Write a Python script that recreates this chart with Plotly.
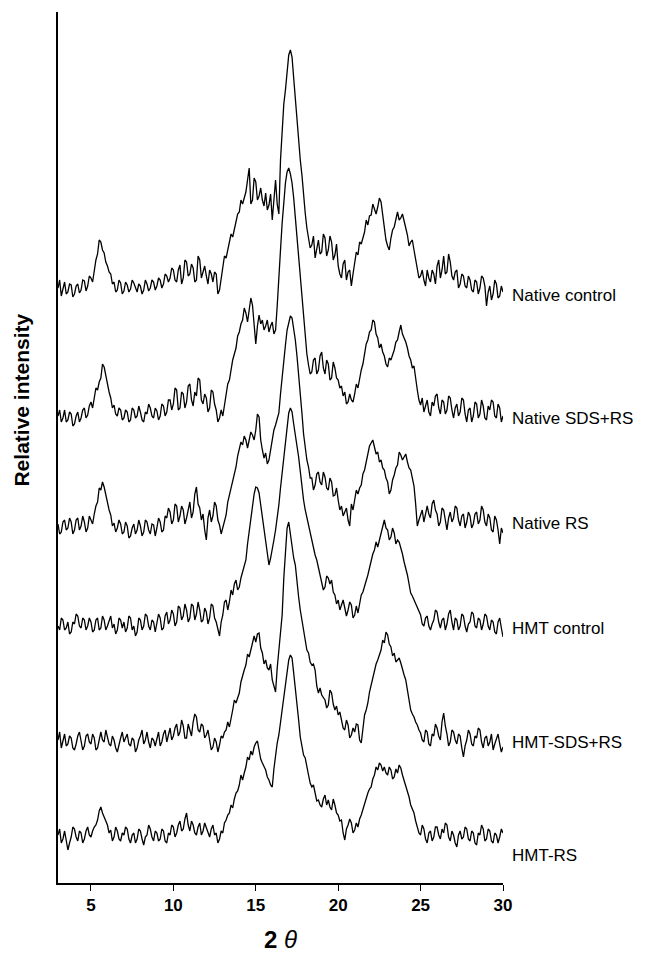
import numpy as np
import plotly.graph_objects as go

# 2-theta sampling grid (degrees)
two_theta_start = 3.0
two_theta_step = 0.1
n_points = 271
two_theta = np.round(two_theta_start + two_theta_step * np.arange(n_points), 1)

sample_names = ["Native control", "Native SDS+RS", "Native RS",
                "HMT control", "HMT-SDS+RS", "HMT-RS"]

# vertical stacking offsets (relative intensity units)
stack_offsets = [583, 453, 343, 243, 123, 28]

# intensities, one row per degree (3.0 ... 3.9, 4.0 ... 4.9, ..., 30.0)
native_control = [
    12, 20, 4, 10, 18, 6, 8, 16, 15, 3,
    6, 14, 16, 7, 10, 20, 19, 9, 14, 24,
    22, 18, 30, 40, 46, 60, 58, 50, 47, 38,
    34, 28, 26, 16, 18, 8, 10, 20, 17, 6,
    9, 18, 15, 8, 11, 20, 17, 12, 8, 16,
    14, 6, 10, 20, 16, 9, 12, 20, 18, 10,
    14, 22, 20, 12, 16, 26, 24, 18, 22, 32,
    30, 20, 18, 30, 35, 16, 22, 40, 38, 24,
    26, 36, 32, 18, 20, 44, 40, 22, 28, 34,
    24, 16, 30, 26, 18, 28, 26, 6, 10, 22,
    30, 44, 42, 50, 55, 66, 63, 70, 78, 86,
    88, 100, 96, 102, 108, 120, 132, 96, 100, 122,
    118, 100, 104, 112, 100, 94, 107, 90, 95, 106,
    80, 100, 120, 96, 86, 140, 175, 196, 210, 232,
    245, 250, 243, 222, 200, 180, 160, 140, 125, 104,
    87, 72, 63, 52, 55, 64, 42, 50, 60, 46,
    48, 66, 62, 44, 50, 64, 58, 40, 45, 56,
    34, 26, 22, 36, 40, 20, 28, 30, 14, 26,
    38, 48, 45, 58, 56, 62, 68, 80, 75, 84,
    85, 96, 90, 86, 93, 102, 98, 84, 74, 60,
    54, 50, 62, 70, 73, 82, 88, 80, 82, 86,
    77, 72, 65, 54, 58, 60, 50, 40, 30, 22,
    24, 30, 20, 14, 30, 22, 18, 30, 26, 16,
    34, 40, 22, 30, 44, 26, 28, 46, 38, 24,
    20, 28, 30, 12, 16, 26, 24, 14, 12, 24,
    20, 10, 8, 20, 18, 6, 12, 24, 22, 14,
    -6, 8, 14, 0, 6, 20, 16, 2, 4, 14,
    8]

native_sds_rs = [
    14, 20, 8, 12, 20, 8, 10, 18, 16, 4,
    6, 14, 18, 8, 12, 20, 22, 12, 15, 24,
    28, 22, 32, 42, 40, 48, 52, 66, 63, 54,
    46, 38, 32, 22, 25, 16, 14, 22, 20, 10,
    12, 20, 18, 8, 10, 22, 20, 12, 14, 24,
    18, 10, 8, 18, 16, 26, 22, 14, 12, 22,
    19, 10, 14, 26, 24, 14, 18, 30, 30, 20,
    26, 42, 40, 20, 22, 38, 36, 22, 28, 44,
    46, 30, 24, 38, 34, 52, 50, 30, 26, 36,
    32, 18, 22, 40, 38, 26, 20, 8, 12, 20,
    14, 26, 35, 46, 50, 62, 70, 76, 82, 94,
    98, 106, 110, 122, 117, 108, 118, 132, 125, 100,
    86, 104, 115, 106, 110, 100, 104, 110, 98, 104,
    108, 96, 100, 124, 147, 180, 207, 230, 247, 258,
    262, 256, 247, 232, 213, 194, 173, 152, 130, 110,
    93, 76, 65, 56, 58, 70, 72, 56, 60, 74,
    78, 62, 56, 70, 66, 50, 52, 68, 62, 52,
    50, 42, 44, 34, 38, 26, 28, 36, 30, 28,
    36, 46, 42, 52, 60, 66, 75, 86, 90, 98,
    100, 110, 108, 96, 92, 82, 86, 78, 74, 66,
    63, 72, 70, 74, 80, 88, 90, 98, 105, 96,
    92, 88, 82, 74, 70, 62, 64, 50, 40, 30,
    25, 32, 18, 24, 30, 18, 14, 28, 24, 34,
    36, 22, 16, 30, 28, 16, 20, 34, 32, 20,
    12, 22, 26, 14, 18, 32, 30, 16, 8, 20,
    22, 8, 14, 28, 26, 12, 16, 30, 24, 12,
    10, 24, 20, 30, 28, 14, 12, 26, 22, 8,
    14]

native_rs = [
    16, 6, 8, 18, 20, 10, 12, 22, 18, 6,
    10, 20, 22, 10, 14, 24, 18, 8, 12, 24,
    20, 16, 26, 34, 38, 52, 50, 58, 53, 44,
    35, 30, 25, 14, 17, 8, 12, 20, 16, 6,
    8, 18, 14, 2, 4, 12, 16, 6, 10, 20,
    14, 4, 8, 20, 18, 10, 6, 16, 15, 4,
    12, 22, 18, 8, 10, 24, 22, 32, 28, 16,
    20, 36, 34, 18, 24, 34, 30, 16, 22, 30,
    38, 22, 28, 46, 53, 36, 32, 20, 26, 10,
    0, 22, 30, 18, 24, 38, 34, 20, 15, 6,
    13, 20, 25, 38, 45, 52, 60, 68, 73, 84,
    90, 98, 95, 104, 100, 92, 100, 108, 105, 100,
    110, 126, 123, 100, 90, 82, 87, 76, 80, 90,
    97, 110, 115, 122, 127, 146, 165, 182, 195, 210,
    218, 224, 222, 212, 200, 184, 167, 146, 127, 106,
    90, 80, 73, 62, 62, 50, 55, 66, 68, 58,
    55, 68, 63, 52, 50, 62, 58, 44, 45, 52,
    40, 30, 34, 24, 28, 32, 20, 14, 36, 30,
    40, 50, 46, 52, 55, 66, 70, 78, 85, 94,
    97, 100, 93, 86, 88, 78, 80, 72, 70, 62,
    58, 46, 50, 60, 65, 72, 75, 88, 85, 80,
    83, 86, 78, 72, 70, 60, 54, 36, 14, 20,
    26, 30, 18, 28, 34, 26, 22, 36, 40, 30,
    26, 14, 18, 32, 30, 20, 10, 22, 28, 18,
    22, 34, 32, 20, 14, 24, 26, 12, 18, 28,
    24, 12, 16, 26, 28, 16, 20, 34, 30, 18,
    14, 26, 22, 10, 8, 24, 20, 10, -4, 12,
    7]

hmt_control = [
    14, 10, 22, 20, 10, 12, 18, 6, 8, 18,
    16, 26, 24, 14, 12, 22, 20, 10, 14, 22,
    18, 8, 10, 20, 22, 10, 12, 24, 20, 10,
    14, 20, 24, 12, 16, 6, 10, 22, 20, 12,
    18, 8, 12, 24, 22, 10, 14, 4, 8, 22,
    20, 10, 14, 26, 24, 14, 10, 20, 18, 8,
    16, 26, 22, 10, 12, 24, 28, 16, 20, 30,
    26, 14, 18, 34, 32, 20, 24, 36, 30, 18,
    22, 36, 34, 20, 26, 38, 30, 18, 20, 32,
    28, 16, 22, 36, 34, 22, 18, 10, 4, 18,
    25, 38, 40, 30, 38, 50, 45, 56, 60, 50,
    53, 62, 68, 76, 80, 96, 110, 124, 135, 146,
    153, 152, 147, 134, 125, 112, 100, 86, 75, 82,
    90, 100, 110, 122, 135, 152, 168, 186, 200, 216,
    227, 232, 228, 216, 203, 194, 183, 168, 153, 140,
    130, 122, 115, 106, 100, 92, 85, 80, 73, 64,
    58, 50, 53, 64, 62, 56, 60, 48, 45, 36,
    40, 30, 35, 40, 32, 24, 30, 38, 35, 22,
    25, 34, 27, 36, 45, 48, 53, 60, 65, 72,
    80, 86, 90, 98, 93, 100, 105, 114, 120, 112,
    110, 100, 103, 112, 107, 96, 100, 98, 93, 86,
    78, 72, 65, 56, 47, 44, 40, 36, 33, 28,
    25, 16, 14, 22, 24, 14, 10, 16, 20, 30,
    28, 18, 12, 20, 22, 10, 16, 26, 30, 18,
    10, 22, 20, 10, 14, 26, 24, 14, 8, 16,
    18, 28, 26, 14, 12, 22, 20, 10, 16, 26,
    24, 14, 10, 20, 18, 8, 6, 18, 22, 12,
    3]

hmt_sds_rs = [
    20, 28, 12, 18, 26, 14, 16, 24, 22, 12,
    10, 16, 24, 28, 18, 10, 14, 24, 26, 18,
    16, 26, 22, 10, 12, 22, 28, 20, 18, 30,
    24, 16, 14, 24, 20, 12, 8, 16, 22, 28,
    18, 22, 26, 16, 14, 22, 20, 8, 12, 20,
    24, 30, 16, 20, 28, 18, 12, 22, 20, 14,
    22, 28, 14, 18, 26, 30, 18, 24, 32, 20,
    24, 32, 36, 24, 28, 40, 34, 22, 22, 36,
    30, 24, 38, 46, 43, 30, 28, 36, 34, 22,
    25, 30, 20, 10, 13, 22, 18, 8, 15, 24,
    22, 28, 30, 38, 33, 44, 50, 60, 57, 62,
    67, 78, 85, 90, 95, 106, 103, 110, 115, 124,
    118, 126, 127, 112, 107, 96, 100, 92, 90, 96,
    80, 74, 68, 92, 110, 128, 145, 182, 213, 232,
    238, 226, 213, 202, 195, 176, 163, 150, 140, 126,
    118, 110, 107, 98, 95, 96, 90, 74, 67, 72,
    65, 62, 60, 52, 55, 70, 67, 56, 50, 54,
    45, 48, 40, 32, 30, 40, 35, 22, 25, 32,
    28, 36, 35, 20, 17, 34, 45, 50, 57, 68,
    75, 84, 90, 96, 100, 106, 110, 120, 117, 128,
    125, 116, 113, 104, 107, 98, 100, 102, 97, 90,
    85, 80, 70, 58, 50, 46, 43, 38, 35, 30,
    27, 20, 18, 30, 28, 16, 14, 26, 24, 36,
    32, 24, 20, 38, 47, 34, 26, 14, 18, 30,
    28, 20, 16, 26, 24, 12, 3, 14, 20, 30,
    26, 16, 14, 24, 22, 32, 30, 18, 12, 22,
    24, 14, 18, 26, 10, 16, 22, 26, 16, 8,
    13]

hmt_rs = [
    20, 26, 12, 16, 24, 14, 5, 12, 18, 28,
    26, 18, 14, 24, 22, 12, 16, 24, 28, 20,
    18, 24, 28, 30, 35, 44, 48, 42, 38, 34,
    30, 22, 25, 14, 18, 28, 24, 16, 14, 22,
    20, 28, 26, 16, 12, 20, 22, 12, 16, 26,
    24, 16, 10, 18, 20, 30, 26, 18, 14, 24,
    22, 14, 16, 26, 24, 14, 12, 22, 20, 30,
    28, 18, 22, 30, 34, 24, 26, 36, 42, 30,
    24, 34, 30, 22, 20, 28, 32, 20, 24, 32,
    28, 22, 18, 26, 30, 20, 22, 12, 16, 24,
    22, 32, 35, 40, 42, 50, 47, 56, 62, 64,
    70, 80, 75, 82, 88, 98, 95, 104, 100, 108,
    112, 114, 105, 96, 92, 88, 85, 78, 75, 70,
    68, 86, 100, 112, 120, 132, 145, 158, 168, 184,
    195, 200, 197, 182, 168, 150, 135, 118, 107, 100,
    97, 86, 80, 72, 68, 70, 62, 54, 55, 50,
    48, 56, 60, 50, 55, 48, 45, 56, 50, 42,
    40, 34, 35, 22, 15, 26, 30, 36, 32, 22,
    25, 32, 28, 36, 40, 46, 52, 58, 62, 66,
    68, 76, 80, 88, 85, 92, 90, 84, 88, 82,
    80, 88, 85, 76, 78, 86, 82, 90, 87, 80,
    75, 70, 65, 58, 50, 46, 42, 34, 28, 22,
    20, 30, 26, 16, 12, 22, 24, 14, 18, 28,
    28, 20, 16, 26, 22, 32, 30, 18, 14, 24,
    20, 12, 8, 20, 24, 16, 18, 28, 26, 16,
    14, 24, 22, 12, 10, 22, 20, 30, 26, 14,
    16, 26, 24, 14, 12, 22, 20, 12, 18, 26,
    22]

series = [native_control, native_sds_rs, native_rs, hmt_control, hmt_sds_rs, hmt_rs]
label_levels = [588, 465, 360, 255, 141, 28]

x_ticks = [5, 10, 15, 20, 25, 30]

FONT = "Liberation Sans, Arial, sans-serif"

fig = go.Figure()
for name, vals, off in zip(sample_names, series, stack_offsets):
    fig.add_trace(go.Scatter(
        x=two_theta, y=np.array(vals) + off, mode="lines", name=name,
        line=dict(color="black", width=1.3), showlegend=False,
        hoverinfo="skip"))

annotations = []
for name, lvl in zip(sample_names, label_levels):
    annotations.append(dict(
        x=30, y=lvl, xref="x", yref="y", text=name, showarrow=False,
        xanchor="left", yanchor="middle", xshift=7,
        font=dict(family=FONT, size=17, color="black")))

annotations.append(dict(
    x=-0.081, y=0.555, xref="paper", yref="paper", text="<b>Relative intensity</b>",
    textangle=-90, showarrow=False, xanchor="center", yanchor="middle",
    font=dict(family=FONT, size=21, color="black")))

fig.update_layout(
    width=649, height=950,
    margin=dict(l=50, r=154, t=4, b=75),
    paper_bgcolor="white", plot_bgcolor="white",
    annotations=annotations,
    xaxis=dict(
        range=[3, 30], tickmode="array", tickvals=x_ticks,
        ticktext=[f"<b>{t}</b>" for t in x_ticks],
        ticks="outside", ticklen=6, tickwidth=1.2, tickcolor="black",
        showline=True, linecolor="black", linewidth=1.5,
        showgrid=False, zeroline=False,
        tickfont=dict(family=FONT, size=17, color="black"),
        title=dict(text="<b>2</b> <i>θ</i>", standoff=17,
                   font=dict(family=FONT, size=24, color="black"))),
    yaxis=dict(
        range=[0, 871], showticklabels=False, ticks="",
        showline=True, linecolor="black", linewidth=1.5,
        showgrid=False, zeroline=False),
)

fig.write_html("out.html")
